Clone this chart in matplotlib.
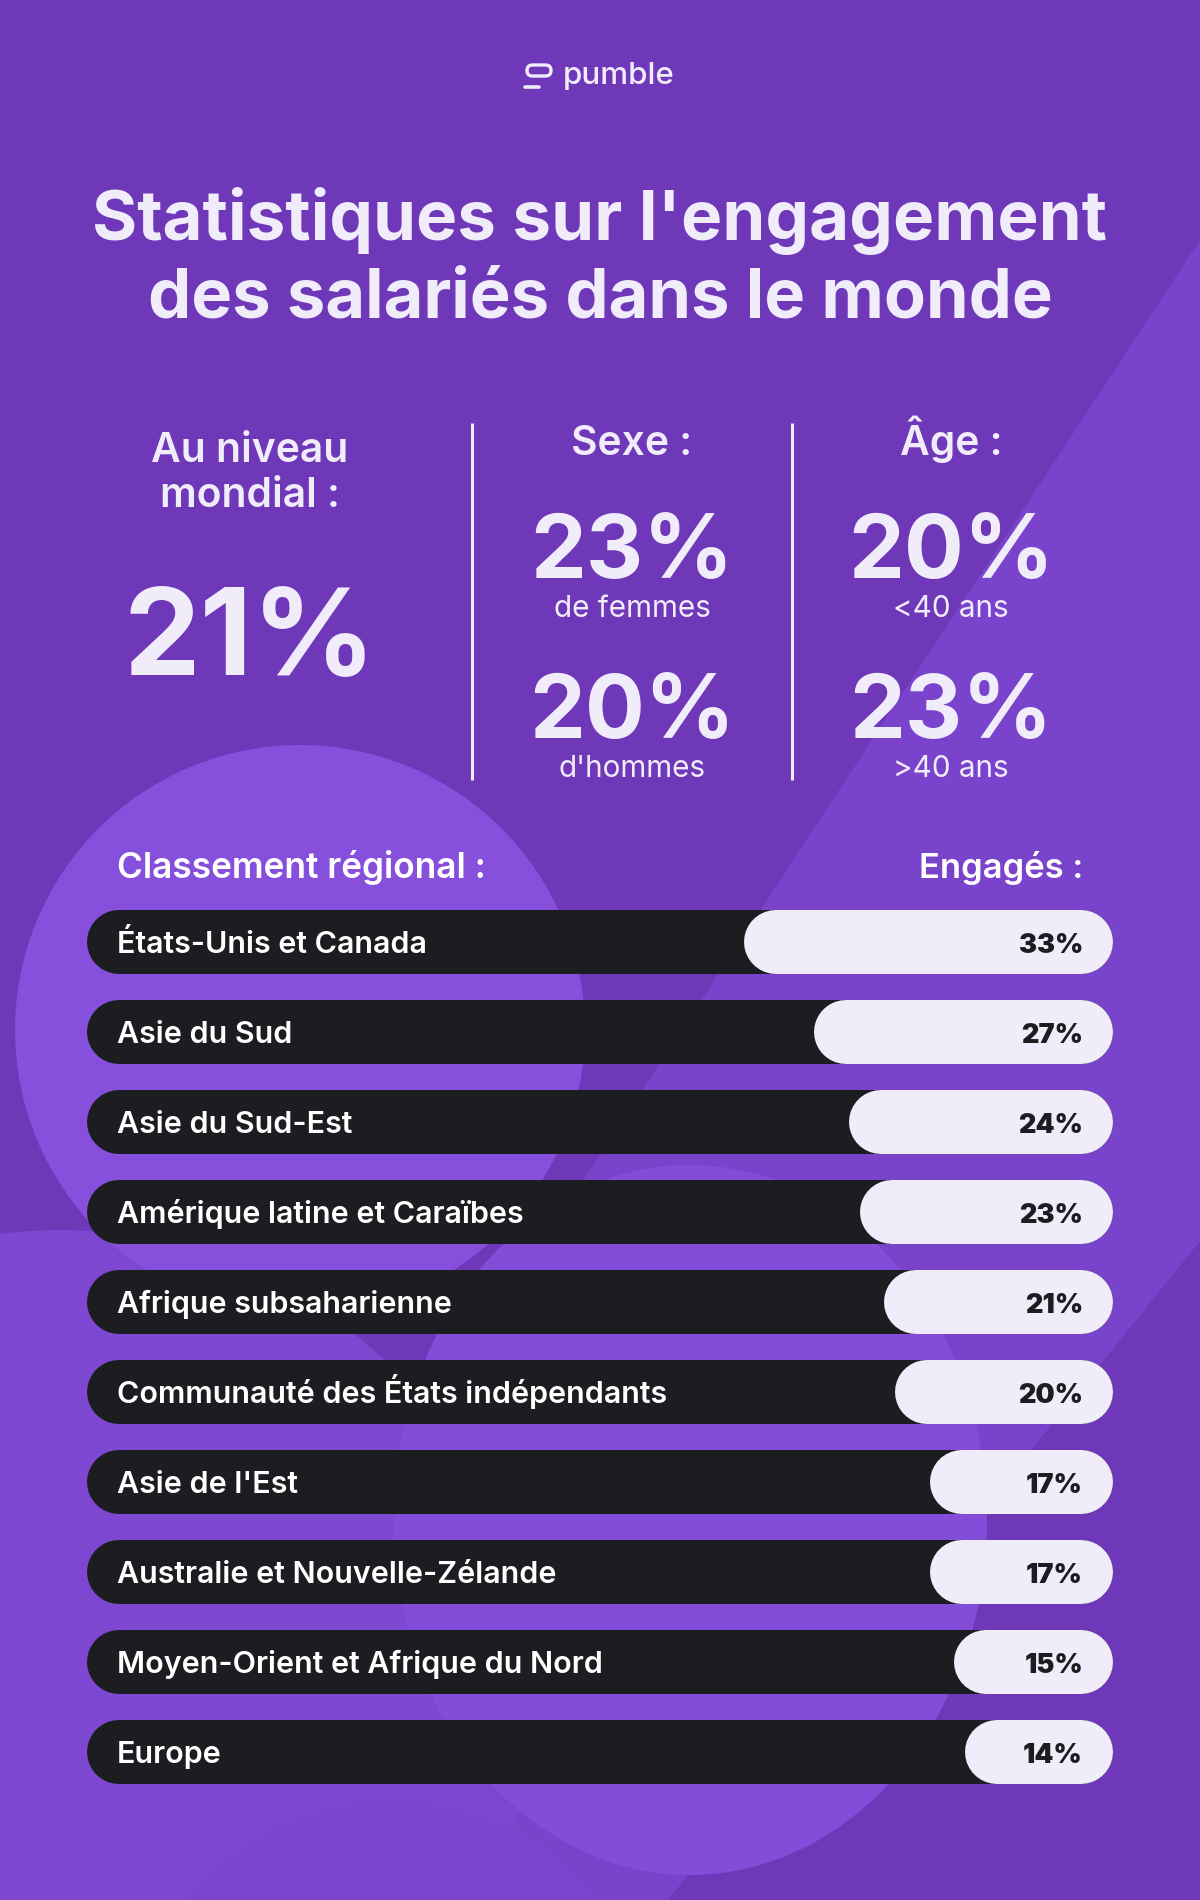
import matplotlib
matplotlib.use("Agg")
import matplotlib.pyplot as plt
from matplotlib.patches import Circle, Ellipse, Polygon, FancyBboxPatch

# ---------------------------------------------------------------- data
regions = ["États-Unis et Canada", "Asie du Sud", "Asie du Sud-Est",
           "Amérique latine et Caraïbes", "Afrique subsaharienne",
           "Communauté des États indépendants", "Asie de l'Est",
           "Australie et Nouvelle-Zélande", "Moyen-Orient et Afrique du Nord",
           "Europe"]
engaged = [33, 27, 24, 23, 21, 20, 17, 17, 15, 14]

global_value = 21
sex_values = [23, 20]
sex_labels = ["de femmes", "d'hommes"]
age_values = [20, 23]
age_labels = ["<40 ans", ">40 ans"]

title_lines = ["Statistiques sur l'engagement", "des salariés dans le monde"]

# ---------------------------------------------------------------- style
BASE = "#6E38B9"
LIGHT = "#F0ECF9"
DARK = "#1B1D21"
plt.rcParams['font.family'] = ['Inter', 'DejaVu Sans']

fig = plt.figure(figsize=(12, 19), dpi=100)
fig.patch.set_facecolor(BASE)
bg = fig.add_axes([0, 0, 1, 1])
bg.set_xlim(0, 1200)
bg.set_ylim(1900, 0)
bg.axis('off')
renderer = fig.canvas.get_renderer()


def fit(t, width):
    w = t.get_window_extent(renderer).width
    t.set_fontsize(t.get_fontsize() * width / w)
    return t


# decorative shapes (opaque, back to front)
bg.add_patch(Polygon([(111, 1900), (1200, 240), (1200, 1241), (668, 1900)],
                     closed=True, fc="#7A43CB", lw=0))
bg.add_patch(Circle((60, 1700), 470, fc="#7E47D2", lw=0))
bg.add_patch(Circle((392, 2060), 260, fc="#7B45CF", lw=0))
bg.add_patch(Ellipse((690, 1520), 594, 710, fc="#834CD9", lw=0))
bg.add_patch(Circle((300, 1030), 285, fc="#8650DD", lw=0))

# logo
bg.add_patch(FancyBboxPatch((527, 65), 24, 11, boxstyle="round,pad=0,rounding_size=5.5",
                            fc='none', ec=LIGHT, lw=2.4))
bg.plot([525, 539], [87, 87], color=LIGHT, lw=2.6, solid_capstyle='round')
fit(bg.text(563, 84, "pumble", color=LIGHT, fontsize=22, fontweight='medium',
            ha='left', va='baseline'), 112)

# title
fit(bg.text(600, 240, title_lines[0], color=LIGHT, fontsize=48, fontweight='bold',
            ha='center', va='baseline'), 1014)
fit(bg.text(600, 317, title_lines[1], color=LIGHT, fontsize=48, fontweight='bold',
            ha='center', va='baseline'), 905)

# stats block
for xd in [472, 792]:
    bg.plot([xd, xd], [423, 780], color=LIGHT, lw=2.2, solid_capstyle='butt')

head = fit(bg.text(250, 462, "Au niveau", color=LIGHT, fontsize=30, fontweight='semibold',
                   ha='center', va='baseline'), 197).get_fontsize()
bg.text(250, 507, "mondial :", color=LIGHT, fontsize=head,
        fontweight='semibold', ha='center', va='baseline')
fit(bg.text(250, 675, f"{global_value}%", color=LIGHT, fontsize=100, fontweight='bold',
            ha='center', va='baseline'), 253)

bg.text(632, 455, "Sexe :", color=LIGHT, fontsize=head,
        fontweight='semibold', ha='center', va='baseline')
bg.text(951, 455, "Âge :", color=LIGHT, fontsize=head,
        fontweight='semibold', ha='center', va='baseline')

probe = fit(bg.text(600, 578, "20%", fontsize=72, fontweight='bold'), 206)
big = probe.get_fontsize()
probe.remove()
probe = fit(bg.text(600, 617, "de femmes", fontsize=20), 157)
small = probe.get_fontsize()
probe.remove()
for xc, vals, labs in [(632, sex_values, sex_labels), (951, age_values, age_labels)]:
    for k, (v, lab) in enumerate(zip(vals, labs)):
        yb = 578 + k * 160
        bg.text(xc, yb, f"{v}%", color=LIGHT, fontsize=big, fontweight='bold',
                ha='center', va='baseline')
        bg.text(xc, yb + 39, lab, color=LIGHT, fontsize=small,
                ha='center', va='baseline')

# ranking header
fit(bg.text(117, 878, "Classement régional :", color='white', fontsize=23,
            fontweight='semibold', ha='left', va='baseline'), 368)
fit(bg.text(1083, 878, "Engagés :", color='white', fontsize=23,
            fontweight='semibold', ha='right', va='baseline'), 164)

# ---------------------------------------------------------------- bars
K = 11.68          # px per percent point
R = 32             # pill radius in px
W = 1026 / K       # axes width in percent units
bx = fig.add_axes([87 / 1200, 1 - 1784 / 1900, 1026 / 1200, 874 / 1900])
bx.set_xlim(-W, 0)
bx.set_ylim(len(regions) - 1 + 32 / 90, -32 / 90)
bx.axis('off')
bx.patch.set_alpha(0)
lw_pt = 2 * R * 72 / 100

names = []
for i, (name, v) in enumerate(zip(regions, engaged)):
    bx.plot([-W + R / K, -R / K], [i, i], color=DARK, lw=lw_pt,
            solid_capstyle='round', clip_on=False)
    bx.plot([-v + (16 + R) / K, -R / K], [i, i], color=LIGHT, lw=lw_pt,
            solid_capstyle='round', clip_on=False)
    names.append(bx.text(-W + 30 / K, i + 11 / 90, name, color='white', fontsize=18,
                         fontweight='semibold', ha='left', va='baseline'))
    bx.text(-30 / K, i + 11 / 90, f"{v}%", color=DARK, fontsize=19.5,
            fontweight='black', ha='right', va='baseline')
lab_size = fit(names[5], 550).get_fontsize()
for t in names:
    t.set_fontsize(lab_size)

fig.savefig("out.png", dpi=100, facecolor=BASE)
